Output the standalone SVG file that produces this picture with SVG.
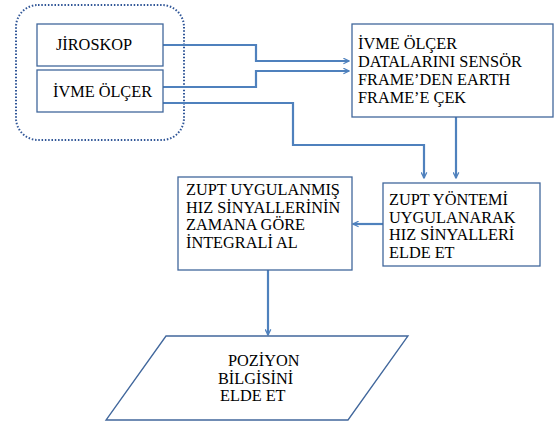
<svg xmlns="http://www.w3.org/2000/svg" width="554" height="428" viewBox="0 0 554 428">
<defs>
<marker id="arr" viewBox="0 0 10 10" refX="9" refY="5" markerWidth="7" markerHeight="7" orient="auto" markerUnits="userSpaceOnUse">
<path d="M1,1 L9,5 L1,9" fill="none" stroke="#4f81bd" stroke-width="1.8"/>
</marker>
</defs>
<style>
.box{fill:#fff;stroke:#41679c;stroke-width:1.3}
.t{font-family:'Liberation Serif','Times New Roman',serif;font-size:16.3px;fill:#000}
.c{fill:none;stroke:#4f81bd;stroke-width:2.2}
</style>
<rect width="554" height="428" fill="#fff"/>
<g id="group">
<rect x="16" y="5" width="168" height="135" rx="22" ry="22" fill="none" stroke="#2f5597" stroke-width="2" stroke-dasharray="1.5 1.8"/>
</g>
<g id="connectors">
<path class="c" d="M163,45 H256 V61 H349" marker-end="url(#arr)"/>
<path class="c" d="M163,87 H256 V71 H349" marker-end="url(#arr)"/>
<path class="c" d="M163,103 H293 V145 H424 V178" marker-end="url(#arr)"/>
<path class="c" d="M456,117 V178" marker-end="url(#arr)"/>
<path class="c" d="M383,224 H353" marker-end="url(#arr)"/>
<path class="c" d="M268,270 V335" marker-end="url(#arr)"/>
</g>
<g id="jiroskop">
<rect class="box" x="37" y="24" width="126" height="42"/>
<text class="t" x="56" y="50">JİROSKOP</text>
</g>
<g id="ivme">
<rect class="box" x="37" y="70" width="126" height="42"/>
<text class="t" x="53" y="96.5">İVME ÖLÇER</text>
</g>
<g id="frame">
<rect class="box" x="352" y="24" width="201" height="93"/>
<text class="t"><tspan x="358" y="48.5">İVME ÖLÇER</tspan><tspan x="358" y="66.5">DATALARINI SENSÖR</tspan><tspan x="358" y="84.5">FRAME’DEN EARTH</tspan><tspan x="358" y="102.5">FRAME’E ÇEK</tspan></text>
</g>
<g id="zupt">
<rect class="box" x="383" y="183" width="157" height="83"/>
<text class="t"><tspan x="389" y="205">ZUPT YÖNTEMİ</tspan><tspan x="389" y="222.5">UYGULANARAK</tspan><tspan x="389" y="240">HIZ SİNYALLERİ</tspan><tspan x="389" y="257.5">ELDE ET</tspan></text>
</g>
<g id="integral">
<rect class="box" x="178" y="177" width="174" height="93"/>
<text class="t"><tspan x="186" y="195">ZUPT UYGULANMIŞ</tspan><tspan x="186" y="212.5">HIZ SİNYALLERİNİN</tspan><tspan x="186" y="230">ZAMANA GÖRE</tspan><tspan x="186" y="247.5">İNTEGRALİ AL</tspan></text>
</g>
<g id="pozisyon">
<polygon class="box" points="166,336 408,336 348,420 106,420"/>
<text class="t"><tspan x="228" y="366">POZİYON</tspan><tspan x="218" y="383.5">BİLGİSİNİ</tspan><tspan x="220" y="401">ELDE ET</tspan></text>
</g>
</svg>
